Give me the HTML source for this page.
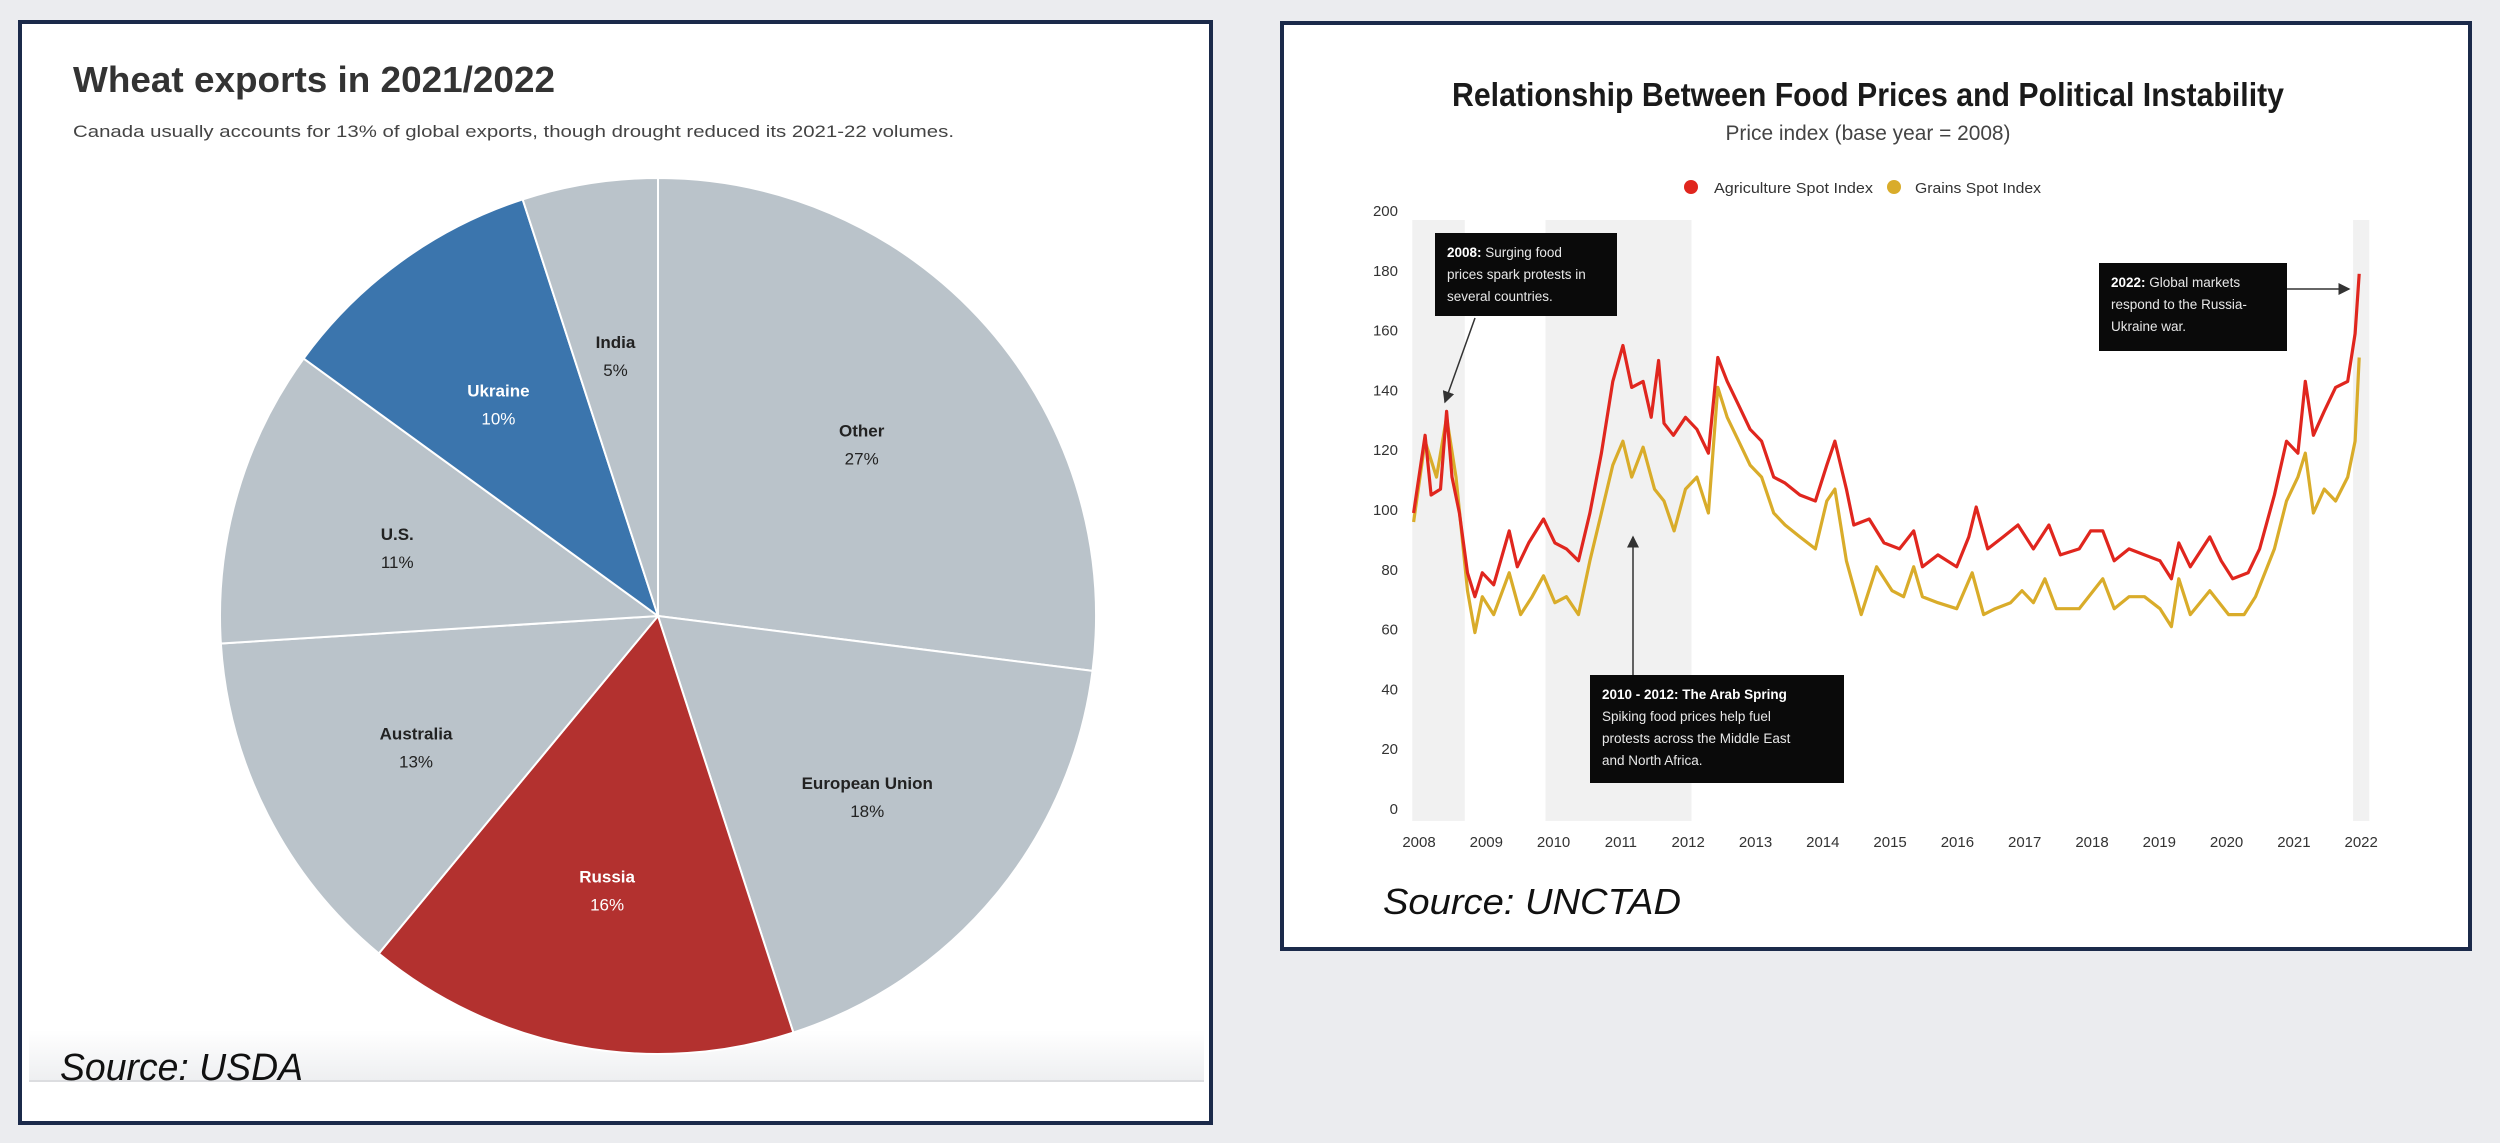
<!DOCTYPE html>
<html><head><meta charset="utf-8"><style>
html,body{margin:0;padding:0;background:#ebecef;width:2500px;height:1143px;overflow:hidden}
svg{display:block}
</style></head><body>
<svg id="root" width="2500" height="1143" viewBox="0 0 2500 1143" xmlns="http://www.w3.org/2000/svg">
<defs>
<linearGradient id="fadeG" x1="0" y1="0" x2="0" y2="1"><stop offset="0" stop-color="#ffffff"/><stop offset="1" stop-color="#eeeff1"/></linearGradient>
<marker id="ah" markerWidth="8" markerHeight="8" refX="7" refY="4" orient="auto"><path d="M0,0 L8,4 L0,8 z" fill="#333"/></marker>
</defs>
<!-- LEFT PANEL -->
<g>
<rect x="20" y="22" width="1191" height="1101" fill="#fff" stroke="#1b2a4a" stroke-width="4"/>
<rect x="29" y="1030" width="1175" height="50" fill="url(#fadeG)"/>
<line x1="29" y1="1081" x2="1204" y2="1081" stroke="#dcdde0" stroke-width="2"/>
<text x="73" y="92" font-family="Liberation Sans, sans-serif" font-weight="bold" font-size="36" fill="#333" textLength="482" lengthAdjust="spacingAndGlyphs">Wheat exports in 2021/2022</text>
<text x="73" y="137" font-family="Liberation Sans, sans-serif" font-size="17" fill="#444" textLength="881" lengthAdjust="spacingAndGlyphs">Canada usually accounts for 13% of global exports, though drought reduced its 2021-22 volumes.</text>
<g id="pie"></g>
<text x="60" y="1080" font-family="Liberation Sans, sans-serif" font-style="italic" font-size="38" fill="#111" textLength="243" lengthAdjust="spacingAndGlyphs">Source: USDA</text>
</g>
<!-- RIGHT PANEL -->
<g>
<rect x="1282" y="23" width="1188" height="926" fill="#fff" stroke="#1b2a4a" stroke-width="4"/>
<text x="1868" y="106" text-anchor="middle" font-family="Liberation Sans, sans-serif" font-weight="bold" font-size="33" fill="#1a1a1a" textLength="832" lengthAdjust="spacingAndGlyphs">Relationship Between Food Prices and Political Instability</text>
<text x="1868" y="140" text-anchor="middle" font-family="Liberation Sans, sans-serif" font-size="21" fill="#444" textLength="285" lengthAdjust="spacingAndGlyphs">Price index (base year = 2008)</text>
<g>
<circle cx="1691" cy="187" r="7" fill="#e0261e"/>
<text x="1714" y="193" font-family="Liberation Sans, sans-serif" font-size="15" fill="#333" textLength="159" lengthAdjust="spacingAndGlyphs">Agriculture Spot Index</text>
<circle cx="1894" cy="187" r="7" fill="#d9ac2a"/>
<text x="1915" y="193" font-family="Liberation Sans, sans-serif" font-size="15" fill="#333" textLength="126" lengthAdjust="spacingAndGlyphs">Grains Spot Index</text>
</g>
<g id="lc"></g>
<text x="1383" y="914" font-family="Liberation Sans, sans-serif" font-style="italic" font-size="36" fill="#111" textLength="298" lengthAdjust="spacingAndGlyphs">Source: UNCTAD</text>
</g>
</svg>
<script>
// ---------- Pie data ----------
const pieLabels = ["Other","European Union","Russia","Australia","U.S.","Ukraine","India"];
const pieValues = [27,18,16,13,11,10,5];
const pieColors = ["#bac3ca","#bac3ca","#b3312f","#bac3ca","#bac3ca","#3b75ad","#bac3ca"];
const pieTextColors = ["#222","#222","#fff","#222","#222","#fff","#222"];

// ---------- Line chart data ----------
const yTicks = [0,20,40,60,80,100,120,140,160,180,200];
const xTickLabels = ["2008","2009","2010","2011","2012","2013","2014","2015","2016","2017","2018","2019","2020","2021","2022"];
const agriYears = [-0.08,0.09,0.18,0.32,0.41,0.49,0.60,0.72,0.83,0.94,1.11,1.34,1.46,1.63,1.85,2.02,2.19,2.37,2.54,2.71,2.88,3.03,3.16,3.33,3.45,3.56,3.64,3.78,3.96,4.13,4.30,4.44,4.58,4.75,4.92,5.09,5.27,5.44,5.66,5.89,6.06,6.18,6.35,6.46,6.69,6.91,7.14,7.35,7.48,7.71,7.99,8.17,8.28,8.45,8.68,8.90,9.13,9.36,9.53,9.81,9.98,10.16,10.33,10.55,10.78,11.01,11.18,11.29,11.46,11.75,11.92,12.09,12.32,12.49,12.71,12.89,13.06,13.17,13.29,13.45,13.62,13.80,13.91,13.97];
const agriValues = [99,125,105,107,133,111,99,79,71,79,75,93,81,89,97,89,87,83,99,119,143,155,141,143,131,150,129,125,131,127,119,151,143,135,127,123,111,109,105,103,115,123,107,95,97,89,87,93,81,85,81,91,101,87,91,95,87,95,85,87,93,93,83,87,85,83,77,89,81,91,83,77,79,87,105,123,119,143,125,133,141,143,159,179];
const grainYears = [-0.08,0.09,0.26,0.41,0.55,0.72,0.83,0.94,1.11,1.34,1.51,1.68,1.85,2.02,2.19,2.37,2.54,2.71,2.88,3.03,3.16,3.33,3.50,3.64,3.79,3.96,4.13,4.30,4.44,4.58,4.75,4.92,5.09,5.27,5.44,5.66,5.89,6.06,6.18,6.35,6.57,6.80,7.03,7.20,7.35,7.48,7.71,7.99,8.22,8.39,8.56,8.79,8.96,9.13,9.30,9.47,9.81,10.16,10.33,10.55,10.78,11.01,11.18,11.29,11.46,11.75,12.03,12.26,12.43,12.71,12.89,13.06,13.17,13.29,13.45,13.62,13.80,13.91,13.97];
const grainValues = [96,123,111,131,111,73,59,71,65,79,65,71,78,69,71,65,83,99,115,123,111,121,107,103,93,107,111,99,141,131,123,115,111,99,95,91,87,103,107,83,65,81,73,71,81,71,69,67,79,65,67,69,73,69,77,67,67,77,67,71,71,67,61,77,65,73,65,65,71,87,103,111,119,99,107,103,111,123,151];

const NS = "http://www.w3.org/2000/svg";
function mk(tag, attrs, parent){const e=document.createElementNS(NS,tag);for(const k in attrs)e.setAttribute(k,attrs[k]);parent.appendChild(e);return e;}

// ---------- Pie ----------
(function(){
  const g=document.getElementById('pie');
  const cx=658, cy=616, r=438;
  const total=pieValues.reduce((a,b)=>a+b,0);
  let a0=0;
  pieValues.forEach((v,i)=>{
    const a1=a0+v/total*Math.PI*2;
    const p=(a)=>[cx+r*Math.sin(a), cy-r*Math.cos(a)];
    const [x0,y0]=p(a0),[x1,y1]=p(a1);
    const large=(a1-a0)>Math.PI?1:0;
    const s=mk('path',{d:`M${cx},${cy} L${x0},${y0} A${r},${r} 0 ${large} 1 ${x1},${y1} Z`,fill:pieColors[i],stroke:'#fff','stroke-width':2},g);
    
    
    const am=(a0+a1)/2, lr=r*0.62;
    const lx=cx+lr*Math.sin(am), ly=cy-lr*Math.cos(am);
    const t1=mk('text',{x:lx,y:ly,'text-anchor':'middle','font-family':'Liberation Sans, sans-serif','font-weight':'bold','font-size':17,fill:pieTextColors[i]},g);
    t1.textContent=pieLabels[i];
    
    
    const t2=mk('text',{x:lx,y:ly+28,'text-anchor':'middle','font-family':'Liberation Sans, sans-serif','font-size':17,fill:pieTextColors[i]},g);
    t2.textContent=pieValues[i]+'%';
    
    
    a0=a1;
  });
})();

// ---------- Line chart ----------
(function(){
  const g=document.getElementById('lc');
  const X=(yr)=>1419+(yr-2008)*67.3;
  const Y=(v)=>809-v*2.99;
  const F='Liberation Sans, sans-serif';
  // shaded bands
  [[2007.9,2008.68],[2009.88,2012.05],[2021.88,2022.12]].forEach((b,i)=>{
    const r=mk('rect',{x:X(b[0]),y:Y(197),width:X(b[1])-X(b[0]),height:Y(-4)-Y(197),fill:'#f1f1f1'},g);
    
    
  });
  yTicks.forEach(v=>{
    const t=mk('text',{x:1398,y:Y(v)+5,'text-anchor':'end','font-family':F,'font-size':15,fill:'#333'},g);
    t.textContent=v;
    
    
  });
  xTickLabels.forEach((l,i)=>{
    const t=mk('text',{x:X(2008+i),y:847,'text-anchor':'middle','font-family':F,'font-size':15,fill:'#333'},g);
    t.textContent=l;
    
    
  });
  function line(years,vals,color,name){
    const d=years.map((yr,i)=>(i?'L':'M')+X(2008+yr).toFixed(1)+','+Y(vals[i]).toFixed(1)).join(' ');
    const p=mk('path',{d:d,fill:'none',stroke:color,'stroke-width':3.2,'stroke-linejoin':'round'},g);
    
    
  }
  line(grainYears,grainValues,'#d9ac2a','grains-spot-index-line');
  line(agriYears,agriValues,'#e0261e','agriculture-spot-index-line');
  // annotations
  function box(x,y,w,h,lines,name,arrow){
    const bg=mk('g',{},g);
    
    
    mk('rect',{x:x,y:y,width:w,height:h,fill:'#0a0a0a'},bg);
    lines.forEach((ln,i)=>{
      const t=mk('text',{x:x+12,y:y+24+i*22,'font-family':F,'font-size':13.5,fill:'#e8e8e8'},bg);
      if(i===0&&ln[0]){const b=mk('tspan',{'font-weight':'bold',fill:'#fff'},t);b.textContent=ln[0];const r=mk('tspan',{},t);r.textContent=ln[1];}
      else t.textContent=ln[1];
    });
    const a=mk('line',{x1:arrow[0],y1:arrow[1],x2:arrow[2],y2:arrow[3],stroke:'#333','stroke-width':1.5,'marker-end':'url(#ah)'},bg);
  }
  box(1435,233,182,83,[["2008:"," Surging food"],[null,"prices spark protests in"],[null,"several countries."]],'annotation-2008',[1475,318,1445,402]);
  box(1590,675,254,108,[["2010 - 2012: The Arab Spring",""],[null,"Spiking food prices help fuel"],[null,"protests across the Middle East"],[null,"and North Africa."]],'annotation-arab-spring',[1633,675,1633,537]);
  box(2099,263,188,88,[["2022:"," Global markets"],[null,"respond to the Russia-"],[null,"Ukraine war."]],'annotation-2022',[2287,289,2349,289]);
})();
</script>
</body></html>
